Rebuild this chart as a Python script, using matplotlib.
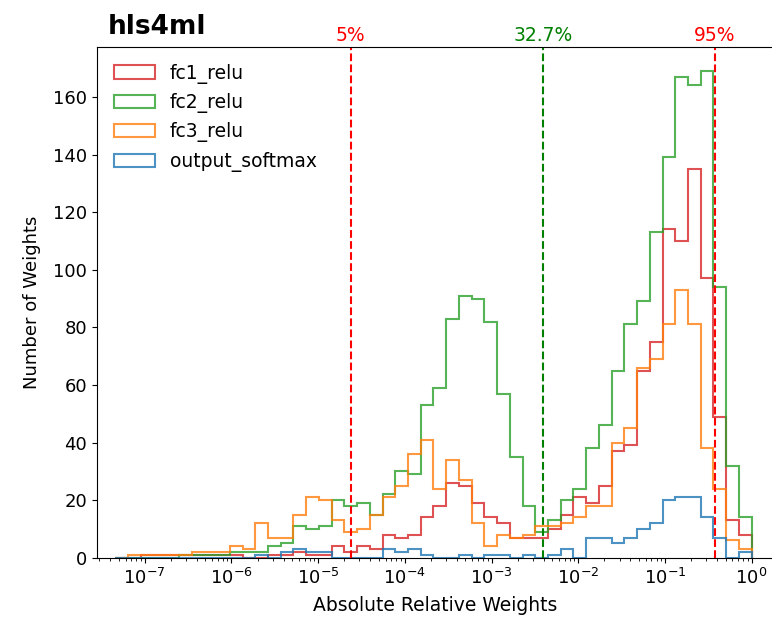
# Histogram of absolute relative weights per layer (hls4ml profiling)

import numpy as np
import matplotlib
matplotlib.use("Agg")
import matplotlib.pyplot as plt

# log-spaced bins: 10^-7.34 .. 10^0, 50 bins
log_min = -7.34
n_bins = 50

layers = ["fc1_relu", "fc2_relu", "fc3_relu", "output_softmax"]
colors = ["tab:red", "tab:green", "tab:orange", "tab:blue"]

fc1_counts = [0, 0, 1, 1, 1, 1, 1, 1, 1, 1,
              0, 0, 1, 1, 2, 1, 1, 4, 2, 4,
              3, 8, 7, 8, 14, 18, 26, 25, 19, 14,
              12, 7, 7, 7, 10, 15, 21, 19, 25, 37,
              39, 65, 75, 114, 110, 135, 97, 49, 13, 8]
fc2_counts = [0, 0, 0, 0, 0, 1, 1, 1, 1, 2,
              2, 2, 4, 5, 11, 10, 11, 20, 18, 19,
              15, 22, 30, 29, 53, 59, 83, 91, 90, 82,
              57, 35, 18, 9, 13, 20, 24, 38, 46, 65,
              81, 89, 113, 139, 167, 164, 169, 94, 32, 14]
fc3_counts = [0, 1, 1, 1, 1, 1, 2, 2, 2, 4,
              3, 12, 7, 7, 15, 21, 20, 13, 9, 10,
              15, 21, 25, 36, 41, 24, 34, 27, 12, 4,
              8, 7, 8, 11, 11, 12, 14, 18, 18, 40,
              45, 66, 69, 81, 93, 81, 38, 24, 6, 3]
out_counts = [0, 0, 0, 0, 0, 0, 0, 0, 0, 0,
              0, 1, 0, 2, 3, 2, 2, 0, 0, 0,
              0, 3, 2, 3, 1, 0, 0, 1, 0, 1,
              1, 0, 1, 0, 1, 3, 0, 7, 7, 5,
              7, 10, 12, 20, 21, 21, 14, 7, 0, 2]

# percentile markers
pct_labels = ["5%", "32.7%", "95%"]
pct_values = [2.37e-5, 3.95e-3, 0.377]
pct_colors = ["red", "green", "red"]

edges = np.logspace(log_min, 0, n_bins + 1)
all_counts = [fc1_counts, fc2_counts, fc3_counts, out_counts]

fig = plt.figure(figsize=(7.72, 6.19), dpi=100)
ax = fig.add_axes([0.1256, 0.0990, 0.8756, 0.8256])

for name, col, cnt in zip(layers, colors, all_counts):
    ax.hist(edges[:-1], bins=edges, weights=cnt, histtype="step",
            color=col, alpha=0.8, linewidth=1.5, label=name)

ax.set_xscale("log")
ax.set_xlim(10 ** -7.551, 10 ** 0.2457)

for lab, val, col in zip(pct_labels, pct_values, pct_colors):
    ax.axvline(val, color=col, linestyle="--", linewidth=1.5)
    ax.text(val, 1.004, lab, color=col, fontsize=13.5, ha="center",
            va="bottom", transform=ax.get_xaxis_transform())

ax.set_yticks(range(0, 161, 20))
ax.tick_params(labelsize=13)
ax.set_xlabel("Absolute Relative Weights", fontsize=13.5, labelpad=6)
ax.set_ylabel("Number of Weights", fontsize=13, labelpad=9)
ax.legend(loc="upper left", frameon=False, fontsize=13.5, handlelength=2.2)

fig.text(108 / 772, 1 - 33.5 / 619, "hls4ml", fontsize=19,
         fontweight="bold", va="baseline")

fig.savefig("out.png", dpi=100)
